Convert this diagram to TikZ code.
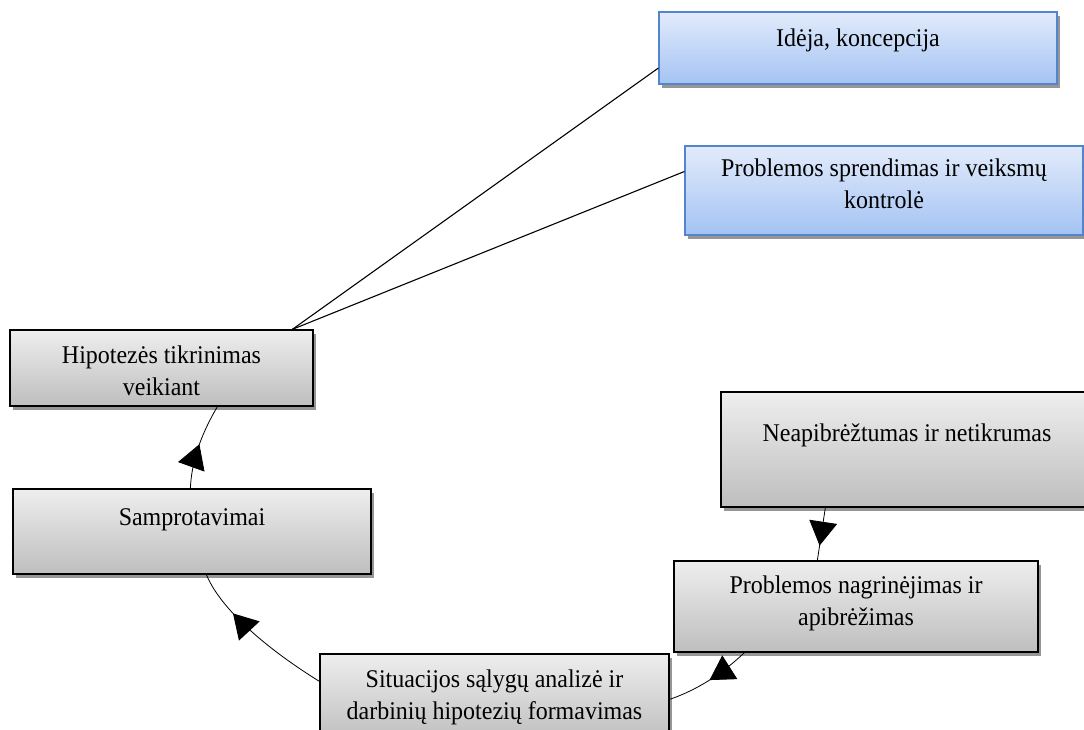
\documentclass[tikz,border=0pt]{standalone}
\usepackage{fontspec}
\setmainfont{Liberation Serif}[FakeStretch=0.94]
\usetikzlibrary{arrows.meta,shadows,decorations.markings}
\definecolor{blutop}{RGB}{226,235,251}
\definecolor{blubot}{RGB}{164,195,243}
\definecolor{bluedge}{RGB}{84,132,204}
\definecolor{grytop}{RGB}{238,238,238}
\definecolor{grybot}{RGB}{190,190,190}
\definecolor{shadowc}{RGB}{150,150,150}
\tikzset{
  grybox/.style={draw=black, line width=1.3pt, top color=grytop, bottom color=grybot,
    drop shadow={shadow xshift=3pt, shadow yshift=-4pt, fill=shadowc, opacity=1}, inner sep=0pt},
  blubox/.style={draw=bluedge, line width=1.2pt, top color=blutop, bottom color=blubot,
    drop shadow={shadow xshift=3pt, shadow yshift=-4pt, fill=shadowc, opacity=1}, inner sep=0pt},
  lbl/.style={font=\fontsize{25.5}{32}\selectfont, align=center, inner sep=0pt},
  link/.style={line width=1.1pt},
  cyc/.style={line width=0.8pt, postaction={decorate},
    decoration={markings, mark=at position #1 with {\arrow{Triangle[length=24pt,width=28pt]}}}},
}
\begin{document}
\begin{tikzpicture}[x=1pt,y=-1pt]
\useasboundingbox (0,0) rectangle (1084,730);
\clip (0,0) rectangle (1084,730);
% boxes
\node[blubox, minimum width=398pt, minimum height=72pt] (ide) at (858,48) {};
\node[blubox, minimum width=398pt, minimum height=89pt] (spr) at (884,190.5) {};
\node[grybox, minimum width=303pt, minimum height=76pt] (hip) at (161.5,368) {};
\node[grybox, minimum width=358pt, minimum height=85pt] (samp) at (192,531.5) {};
\node[grybox, minimum width=349pt, minimum height=88pt] (sit) at (494.5,698) {};
\node[grybox, minimum width=364pt, minimum height=91pt] (prob) at (856,606.5) {};
\node[grybox, minimum width=364pt, minimum height=115pt] (neap) at (903,449.5) {};
% texts
\node[lbl] (tide) at (858,40) {Idėja, koncepcija};
\node[lbl] (tspr) at (884,184) {Problemos sprendimas ir veiksmų\\kontrolė};
\node[lbl] (thip) at (161.5,371) {Hipotezės tikrinimas\\veikiant};
\node[lbl] (tsamp) at (192,520) {Samprotavimai};
\node[lbl] (tsit) at (494.5,697) {Situacijos sąlygų analizė ir\\darbinių hipotezių formavimas};
\node[lbl] (tprob) at (856,603) {Problemos nagrinėjimas ir\\apibrėžimas};
\node[lbl] (tneap) at (907,435) {Neapibrėžtumas ir netikrumas};
% straight links
\draw[link] ([xshift=283pt]hip.north west) -- ([yshift=-20pt]ide.west);
\draw[link] ([xshift=283pt]hip.north west) -- ([yshift=19pt]spr.west);
% cycle arrows
\draw[cyc=0.52] ([xshift=178pt]samp.north west) .. controls (192,455) and (205,428) .. ([xshift=208pt]hip.south west);
\draw[cyc=0.7] ([yshift=-28pt]sit.north west) .. controls (272,652) and (222,612) .. ([xshift=194pt]samp.south west);
\draw[cyc=0.5] ([xshift=71pt]prob.south west) .. controls (722,674) and (697,690) .. ([yshift=-46pt]sit.north east);
\draw[cyc=0.72] ([xshift=105pt]neap.south west) -- ([xshift=144pt]prob.north west);
\end{tikzpicture}
\end{document}
